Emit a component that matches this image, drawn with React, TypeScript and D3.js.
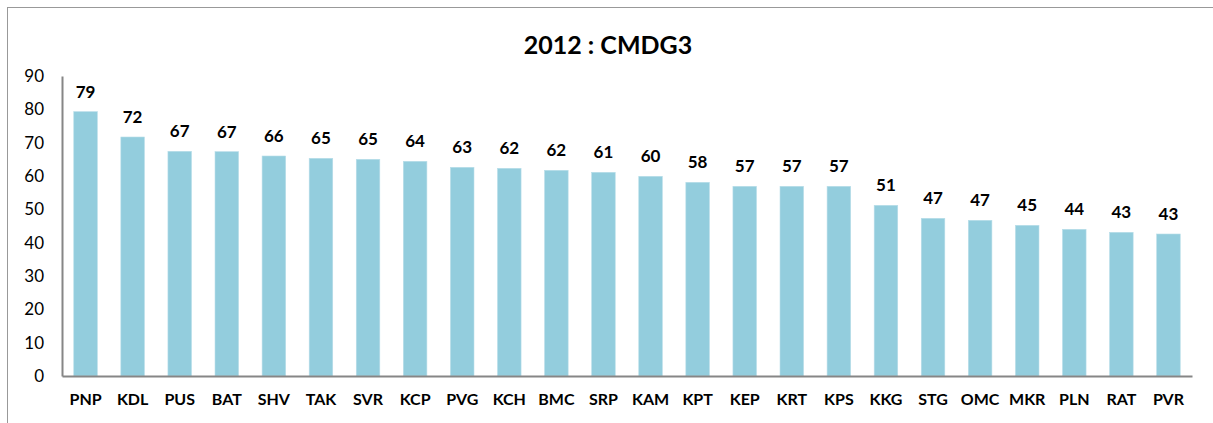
import React, { useEffect, useRef } from "react";
import * as d3 from "d3";

const categories = ["PNP", "KDL", "PUS", "BAT", "SHV", "TAK", "SVR", "KCP", "PVG", "KCH", "BMC", "SRP", "KAM", "KPT", "KEP", "KRT", "KPS", "KKG", "STG", "OMC", "MKR", "PLN", "RAT", "PVR"];
const values = [79.3, 71.7, 67.4, 67.3, 66.0, 65.3, 65.0, 64.4, 62.6, 62.3, 61.7, 61.1, 59.9, 58.1, 56.9, 56.9, 56.9, 51.2, 47.3, 46.7, 45.2, 44.0, 43.1, 42.6];
const yTicks = [0, 10, 20, 30, 40, 50, 60, 70, 80, 90];
const title = "2012 : CMDG3";

const W = 1213;
const H = 423;
const FONT = "Lato, 'Open Sans', sans-serif";

const App = () => {
  const ref = useRef<SVGSVGElement>(null);

  useEffect(() => {
    const svg = d3.select(ref.current);
    svg.selectAll("*").remove();

    const margin = { top: 76, right: 21, bottom: 47, left: 62 };
    const width = W - margin.left - margin.right;
    const height = H - margin.top - margin.bottom;

    // chart border
    svg
      .append("rect")
      .attr("x", 7.5)
      .attr("y", 7.5)
      .attr("width", W)
      .attr("height", H)
      .attr("fill", "none")
      .attr("stroke", "#999")
      .attr("stroke-width", 1);

    svg
      .append("text")
      .attr("x", 608)
      .attr("y", 54)
      .attr("text-anchor", "middle")
      .style("font-family", FONT)
      .style("font-size", "25px")
      .style("font-weight", "bold")
      .text(title);

    const g = svg.append("g").attr("transform", `translate(${margin.left},${margin.top})`);

    const x = d3.scaleBand().domain(categories).range([0, width]).paddingInner(0.5).paddingOuter(0.25);
    const y = d3.scaleLinear().domain([0, 90]).range([height, 0]);

    g.selectAll(".bar")
      .data(values)
      .join("rect")
      .attr("class", "bar")
      .attr("x", (d, i) => x(categories[i])!)
      .attr("y", (d) => y(d))
      .attr("width", x.bandwidth())
      .attr("height", (d) => height - y(d))
      .attr("fill", "#93cddd")
      .attr("stroke", "#b7dde8")
      .attr("stroke-width", 0.6);

    g.selectAll(".val")
      .data(values)
      .join("text")
      .attr("class", "val")
      .attr("x", (d, i) => x(categories[i])! + x.bandwidth() / 2)
      .attr("y", (d) => y(d) - 14)
      .attr("text-anchor", "middle")
      .style("font-family", FONT)
      .style("font-size", "17px")
      .style("font-weight", "bold")
      .text((d) => d3.format(".0f")(d));

    const yAxis = g.append("g").call(d3.axisLeft(y).tickValues(yTicks).tickSize(0).tickPadding(18));
    yAxis.select(".domain").attr("stroke", "#868686").attr("stroke-width", 2);
    yAxis
      .selectAll("text")
      .style("font-family", FONT)
      .style("font-size", "17px")
      .attr("fill", "#000");

    const xAxis = g
      .append("g")
      .attr("transform", `translate(0,${height})`)
      .call(d3.axisBottom(x).tickSize(0).tickPadding(18));
    xAxis.select(".domain").attr("stroke", "#868686").attr("stroke-width", 2);
    xAxis
      .selectAll("text")
      .style("font-family", FONT)
      .style("font-size", "16px")
      .style("font-weight", "bold")
      .attr("fill", "#000");
  }, []);

  return <svg ref={ref} width={W} height={H} style={{ position: "absolute", left: 0, top: 0 }} />;
};

export default App;
